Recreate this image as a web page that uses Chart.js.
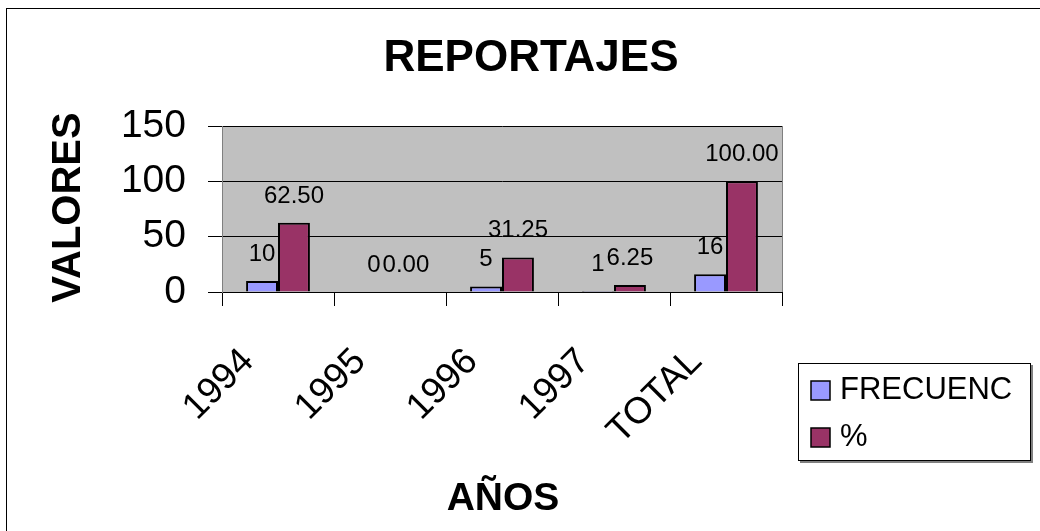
<!DOCTYPE html>
<html>
<head>
<meta charset="utf-8">
<script src="https://cdn.jsdelivr.net/npm/chart.js@4/dist/chart.umd.min.js"></script>
<style>
  html, body { margin: 0; padding: 0; background: #ffffff; }
  #wrap { width: 1040px; height: 531px; position: relative; }
</style>
</head>
<body>
<div id="wrap"><canvas id="c" width="1040" height="531"></canvas></div>
<script>
const categories = ['1994', '1995', '1996', '1997', 'TOTAL'];
const frecuencia = [10, 0, 5, 1, 16];
const porcentaje = [62.5, 0, 31.25, 6.25, 100];
const seriesNames = ['FRECUENC', '%'];
const yTickValues = [0, 50, 100, 150];
const chartTitle = 'REPORTAJES';
const yTitle = 'VALORES';
const xTitle = 'AÑOS';

const FONT = "'Liberation Sans', Arial, sans-serif";
const colFreq = '#9999FF';
const colPct = '#993366';

const decor = {
  id: 'decor',
  beforeDraw(chart) {
    const { ctx, chartArea: a } = chart;
    ctx.save();
    ctx.fillStyle = '#ffffff';
    ctx.fillRect(0, 0, chart.width, chart.height);
    ctx.fillStyle = '#C0C0C0';
    ctx.fillRect(a.left, a.top, a.right - a.left, a.bottom - a.top);
    ctx.restore();
  },
  afterDraw(chart) {
    const { ctx, chartArea: a } = chart;
    ctx.save();
    // plot area right border
    ctx.strokeStyle = '#808080';
    ctx.lineWidth = 1;
    ctx.beginPath();
    ctx.moveTo(Math.round(a.right) + 0.5, a.top);
    ctx.lineTo(Math.round(a.right) + 0.5, a.bottom);
    ctx.stroke();
    // outer chart border
    ctx.strokeStyle = '#000000';
    ctx.lineWidth = 1;
    ctx.strokeRect(6.5, 8.5, 1200, 700);
    // title
    ctx.fillStyle = '#000';
    ctx.textAlign = 'center';
    ctx.textBaseline = 'alphabetic';
    ctx.font = 'bold 44px ' + FONT;
    ctx.fillText(chartTitle, 531, 71);
    // x title
    ctx.font = 'bold 39px ' + FONT;
    ctx.fillText(xTitle, 503, 510);
    // y title
    ctx.save();
    ctx.translate(69, 207.5);
    ctx.rotate(-Math.PI / 2);
    ctx.font = 'bold 40px ' + FONT;
    ctx.textBaseline = 'middle';
    ctx.fillText(yTitle, 0, 0);
    ctx.restore();
    // legend
    ctx.fillStyle = '#808080';
    ctx.fillRect(1031, 365, 2, 98);
    ctx.fillRect(800, 461, 233, 2);
    ctx.fillStyle = '#ffffff';
    ctx.fillRect(798, 363, 233, 98);
    ctx.strokeStyle = '#000';
    ctx.lineWidth = 1;
    ctx.strokeRect(798.5, 363.5, 232, 97);
    const ds = chart.data.datasets;
    const ys = [381, 428];
    ds.forEach((d, i) => {
      ctx.fillStyle = d.backgroundColor;
      ctx.fillRect(811, ys[i], 19, 19);
      ctx.lineWidth = 1.5;
      ctx.strokeStyle = '#000';
      ctx.strokeRect(811, ys[i], 19, 19);
      ctx.fillStyle = '#000';
      ctx.font = '31px ' + FONT;
      ctx.textAlign = 'left';
      ctx.textBaseline = 'alphabetic';
      ctx.fillText(d.label, 840, ys[i] + 18);
    });
    ctx.restore();
  },
  afterDatasetsDraw(chart) {
    const { ctx } = chart;
    ctx.save();
    ctx.fillStyle = '#000';
    ctx.font = '24px ' + FONT;
    ctx.textAlign = 'center';
    ctx.textBaseline = 'alphabetic';
    chart.data.datasets.forEach((d, i) => {
      const meta = chart.getDatasetMeta(i);
      meta.data.forEach((el, j) => {
        const v = d.data[j];
        const txt = i === 0 ? String(v) : v.toFixed(2);
        ctx.fillText(txt, el.x, el.y - 20);
      });
    });
    ctx.restore();
  }
};

new Chart(document.getElementById('c'), {
  type: 'bar',
  data: {
    labels: categories,
    datasets: [
      { label: seriesNames[0], data: frecuencia, backgroundColor: colFreq, borderColor: '#000', borderWidth: 2, borderSkipped: 'start' },
      { label: seriesNames[1], data: porcentaje, backgroundColor: colPct, borderColor: '#000', borderWidth: 2, borderSkipped: 'start' }
    ]
  },
  options: {
    responsive: false,
    animation: false,
    devicePixelRatio: 1,
    layout: { padding: { top: 126, right: 258, left: 0, bottom: 0 } },
    plugins: { legend: { display: false }, title: { display: false }, tooltip: { enabled: false } },
    datasets: { bar: { categoryPercentage: 0.57, barPercentage: 1.0 } },
    scales: {
      x: {
        offset: true,
        grid: { offset: true, drawOnChartArea: false, drawTicks: true, tickLength: 14, color: '#000', lineWidth: 1 },
        border: { display: true, color: '#000', width: 1 },
        ticks: {
          color: '#000',
          font: { family: FONT, size: 37 },
          minRotation: 45, maxRotation: 45,
          padding: 34,
          labelOffset: -30,
          autoSkip: false
        },
        afterFit(scale) { scale.height = 239; }
      },
      y: {
        min: 0, max: 150,
        afterBuildTicks(scale) { scale.ticks = yTickValues.map(v => ({ value: v })); },
        grid: { color: '#000', lineWidth: 1, drawTicks: true, tickLength: 14 },
        border: { display: true, color: '#808080', width: 1 },
        ticks: { color: '#000', font: { family: FONT, size: 39 }, padding: 22 },
        afterFit(scale) { scale.width = 222; }
      }
    }
  },
  plugins: [decor]
});
</script>
</body>
</html>
